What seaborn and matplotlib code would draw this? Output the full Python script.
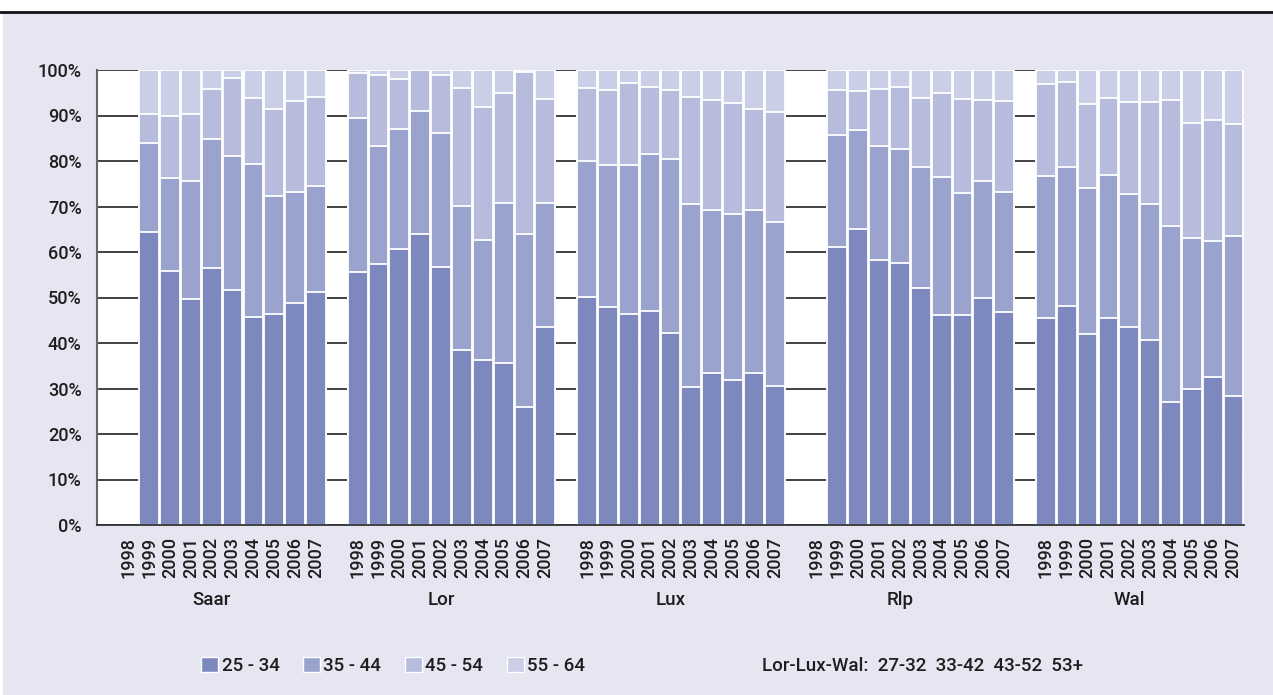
import matplotlib
matplotlib.use("Agg")
import numpy as np
import pandas as pd
import matplotlib.pyplot as plt
import matplotlib.patches as mpatches
from matplotlib.lines import Line2D
import seaborn as sns

## Data (share of each age group, %), years 1998..2007, None = no bar
years = [str(y) for y in range(1998, 2008)]
regions = ["Saar", "Lor", "Lux", "Rlp", "Wal"]
age_groups = ["25 - 34", "35 - 44", "45 - 54", "55 - 64"]

saar_25 = [None, 64.5, 55.9, 49.6, 56.4, 51.7, 45.8, 46.3, 48.9, 51.3]
saar_35 = [None, 19.4, 20.3, 25.9, 28.4, 29.5, 33.6, 26.1, 24.2, 23.1]
saar_45 = [None, 6.4, 13.6, 14.8, 11.0, 17.0, 14.5, 19.1, 20.1, 19.7]
saar_55 = [None, 9.7, 10.2, 9.7, 4.2, 1.8, 6.1, 8.5, 6.8, 5.9]

lor_25 = [55.5, 57.3, 60.6, 63.9, 56.8, 38.4, 36.3, 35.7, 25.9, 43.5]
lor_35 = [33.9, 26.0, 26.5, 27.1, 29.4, 31.7, 26.4, 35.0, 38.0, 27.2]
lor_45 = [9.9, 15.7, 11.0, 9.0, 12.6, 26.0, 29.2, 24.3, 35.6, 22.9]
lor_55 = [0.7, 1.0, 1.9, 0.0, 1.2, 3.9, 8.1, 5.0, 0.5, 6.4]

lux_25 = [50.2, 48.0, 46.3, 47.1, 42.2, 30.3, 33.4, 31.8, 33.4, 30.6]
lux_35 = [29.7, 31.1, 32.8, 34.4, 38.2, 40.2, 35.9, 36.5, 35.9, 35.9]
lux_45 = [16.1, 16.5, 18.1, 14.8, 15.1, 23.6, 24.1, 24.4, 22.1, 24.3]
lux_55 = [4.0, 4.4, 2.8, 3.7, 4.5, 5.9, 6.6, 7.3, 8.6, 9.2]

rlp_25 = [None, 61.1, 65.0, 58.3, 57.6, 52.1, 46.2, 46.2, 49.9, 46.9]
rlp_35 = [None, 24.6, 21.8, 25.0, 25.0, 26.5, 30.2, 26.7, 25.7, 26.2]
rlp_45 = [None, 9.8, 8.6, 12.6, 13.7, 15.3, 18.5, 20.7, 17.8, 20.1]
rlp_55 = [None, 4.5, 4.6, 4.1, 3.7, 6.1, 5.1, 6.4, 6.6, 6.8]

wal_25 = [45.6, 48.2, 41.9, 45.5, 43.5, 40.6, 27.0, 29.9, 32.5, 28.3]
wal_35 = [31.1, 30.4, 32.1, 31.4, 29.3, 29.9, 38.7, 33.1, 30.0, 35.3]
wal_45 = [20.2, 18.7, 18.5, 17.0, 20.1, 22.4, 27.7, 25.3, 26.5, 24.5]
wal_55 = [3.1, 2.7, 7.5, 6.1, 7.1, 7.1, 6.6, 11.7, 11.0, 11.9]

series = {
    "Saar": [saar_25, saar_35, saar_45, saar_55],
    "Lor": [lor_25, lor_35, lor_45, lor_55],
    "Lux": [lux_25, lux_35, lux_45, lux_55],
    "Rlp": [rlp_25, rlp_35, rlp_45, rlp_55],
    "Wal": [wal_25, wal_35, wal_45, wal_55],
}

colors = ["#7d88be", "#99a3cd", "#b7bbdc", "#cacee7"]
bg = "#e6e6f2"

# one empty slot before the first group and between groups
rows = []
tick_pos, tick_lab = [], []
for r_i, reg in enumerate(regions):
    for y_i, yr in enumerate(years):
        pos = 1 + r_i * 11 + y_i
        tick_pos.append(pos)
        tick_lab.append(yr)
        vals = [s[y_i] for s in series[reg]]
        if vals[0] is None:
            continue
        cum = np.cumsum(vals)
        rows.append({"region": reg, "year": yr, "pos": pos,
                     "c1": cum[0], "c2": cum[1], "c3": cum[2], "c4": cum[3]})
df = pd.DataFrame(rows)

sns.set_style("white")
plt.rcParams["font.family"] = ["Roboto", "DejaVu Sans"]
plt.rcParams["font.weight"] = "medium"
plt.rcParams["text.color"] = "#1e1e1e"
plt.rcParams["xtick.color"] = "#1e1e1e"
plt.rcParams["ytick.color"] = "#1e1e1e"

fig = plt.figure(figsize=(12.73, 6.95), dpi=100, facecolor="white")
fig.add_artist(mpatches.Rectangle((3 / 1273, 0), 1, 1 - 13 / 695,
                                  transform=fig.transFigure, color=bg, zorder=-5))
fig.add_artist(Line2D([0, 1], [1 - 12 / 695] * 2, transform=fig.transFigure,
                      color="#111111", lw=2))

ax = fig.add_axes([97 / 1273, 170 / 695, 1147 / 1273, 455 / 695])
ax.set_facecolor("white")

# stacked bars: draw cumulative totals from the top segment down
for col, c in zip(["c4", "c3", "c2", "c1"], colors[::-1]):
    sns.barplot(data=df, x="pos", y=col, native_scale=True, color=c,
                width=0.95, edgecolor="white", linewidth=1.3,
                errorbar=None, saturation=1, ax=ax)

ax.set_xlim(-0.5, 54.5)
ax.set_ylim(0, 100)
ax.set_yticks(range(0, 101, 10))
ax.set_yticklabels([f"{v}%" for v in range(0, 101, 10)], fontsize=13)
ax.set_xticks(tick_pos)
ax.set_xticklabels(tick_lab, rotation=90, fontsize=13)
ax.tick_params(axis="y", length=0, pad=11)
ax.tick_params(axis="x", length=0, pad=9)
ax.set_xlabel("")
ax.set_ylabel("")
ax.grid(axis="y", color="#333333", lw=1.3)
ax.grid(axis="x", visible=False)
ax.set_axisbelow(True)
for s in ["top", "right"]:
    ax.spines[s].set_visible(False)
ax.spines["left"].set_color("#666666")
ax.spines["left"].set_linewidth(1.5)
ax.spines["bottom"].set_color("#333333")
ax.spines["bottom"].set_linewidth(1.3)

for r_i, reg in enumerate(regions):
    ax.text(1 + r_i * 11 + 4, -0.165, reg, transform=ax.get_xaxis_transform(),
            ha="center", va="center", fontsize=13.5)

handles = [mpatches.Patch(facecolor=c, edgecolor="white", lw=1) for c in colors]
fig.legend(handles, age_groups, ncol=4, loc="center left",
           bbox_to_anchor=(184 / 1273, 1 - 666 / 695), frameon=False,
           fontsize=13.5, handlelength=0.9, handleheight=0.9,
           handletextpad=0.2, columnspacing=1.25)
fig.text(762 / 1273, 1 - 666 / 695, "Lor-Lux-Wal:  27-32  33-42  43-52  53+",
         va="center", ha="left", fontsize=13.5)

fig.savefig("out.png", dpi=100, facecolor="white")
